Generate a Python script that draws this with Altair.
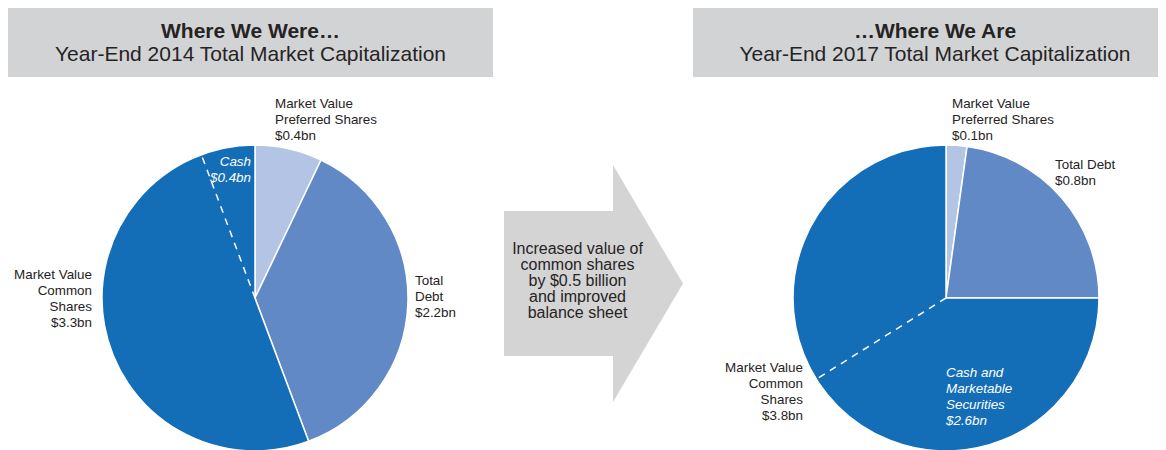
import math
import altair as alt
import pandas as pd

# ---------------- data ----------------
segments = ["Market Value Preferred Shares", "Total Debt", "Market Value Common Shares"]
seg_colors = ["#b3c4e5", "#6189c6", "#136db7"]

# slice sizes as drawn (% of the full circle), clockwise from 12 o'clock
left_share = [7.1, 37.2, 55.7]      # Year-End 2014
right_share = [2.2, 22.8, 75.0]     # Year-End 2017
# cash share inside the common-shares slice (% of circle)
left_cash_share = 5.7               # sits at the end of the common slice
right_cash_share = 41.1             # sits at the start of the common slice

left_labels = [["Market Value", "Preferred Shares", "$0.4bn"],
               ["Total", "Debt", "$2.2bn"],
               ["Market Value", "Common", "Shares", "$3.3bn"]]
left_cash_label = ["Cash", "$0.4bn"]
right_labels = [["Market Value", "Preferred Shares", "$0.1bn"],
                ["Total Debt", "$0.8bn"],
                ["Market Value", "Common", "Shares", "$3.8bn"]]
right_cash_label = ["Cash and", "Marketable", "Securities", "$2.6bn"]

left_title = "Where We Were\u2026"
left_subtitle = "Year-End 2014 Total Market Capitalization"
right_title = "\u2026Where We Are"
right_subtitle = "Year-End 2017 Total Market Capitalization"
arrow_text = ["Increased value of", "common shares", "by $0.5 billion",
              "and improved", "balance sheet"]

# ---------------- layout (page pixels) ----------------
W, H = 1150, 442
M = 8
R = 153
LC = (255, 298)
RC = (946, 298)
FONT = "Liberation Sans"
DARK = "#262324"
GRAY = "#d2d3d5"
ARROW_GRAY = "#d4d4d5"

SX = alt.Scale(domain=[M, M + W], range=[0, W], zero=False, nice=False)
SY = alt.Scale(domain=[M, M + H], range=[0, H], zero=False, nice=False)


def px(v):
    return v - M


def X(f="x"):
    return alt.X(f"{f}:Q", scale=SX, axis=None)


def Y(f="y"):
    return alt.Y(f"{f}:Q", scale=SY, axis=None)


color_scale = alt.Scale(domain=segments, range=seg_colors)
one = pd.DataFrame({"a": [0]})

# header boxes
headers = []
for x0, x1 in [(8, 493), (693, 1180)]:
    headers.append(
        alt.Chart(one).mark_rect(color=GRAY).encode(
            x=alt.value(px(x0)), x2=alt.value(px(x1)),
            y=alt.value(px(7)), y2=alt.value(px(77)))
    )

title_df = pd.DataFrame({"x": [250.5, 935], "y": [38, 38], "t": [left_title, right_title]})
sub_df = pd.DataFrame({"x": [250.5, 935], "y": [61, 61], "t": [left_subtitle, right_subtitle]})
titles = alt.Chart(title_df).mark_text(font=FONT, fontSize=21, fontWeight="bold",
                                       color=DARK, align="center", baseline="alphabetic").encode(
    x=X(), y=Y(), text="t:N")
subs = alt.Chart(sub_df).mark_text(font=FONT, fontSize=21, color=DARK,
                                   align="center", baseline="alphabetic").encode(
    x=X(), y=Y(), text="t:N")

# arrow: shaft rectangle + triangular head (custom symbol path)
SHAFT = (504, 613, 211, 356)
HEAD_X, HEAD_TOP, HEAD_BOT, TIP_X = 613, 165, 402, 683
half = (HEAD_BOT - HEAD_TOP) / 2
head_path = f"M0,-1L{(TIP_X - HEAD_X) / half:.4f},0L0,1Z"
shaft = alt.Chart(one).mark_rect(color=ARROW_GRAY).encode(
    x=alt.value(px(SHAFT[0])), x2=alt.value(px(SHAFT[1]) + 0.5),
    y=alt.value(px(SHAFT[2])), y2=alt.value(px(SHAFT[3])))
head = alt.Chart(pd.DataFrame({"x": [HEAD_X], "y": [(HEAD_TOP + HEAD_BOT) / 2]})).mark_point(
    shape=head_path, size=(2 * half) ** 2, filled=True, color=ARROW_GRAY, opacity=1,
    strokeWidth=0).encode(x=X(), y=Y())
arrow_txt = alt.Chart(pd.DataFrame({"x": [577.5], "y": [254], "t": [arrow_text]})).mark_text(
    font=FONT, fontSize=16, lineHeight=16, color=DARK, align="center", baseline="alphabetic"
).encode(x=X(), y=Y(), text="t:N")


def pie(shares, center):
    df = pd.DataFrame({"seg": segments, "share": shares, "k": [0, 1, 2]})
    return alt.Chart(df).mark_arc(radius=R, stroke="white", strokeWidth=1.5).encode(
        theta=alt.Theta("share:Q", stack=True, scale=alt.Scale(domain=[0, 100])),
        color=alt.Color("seg:N", scale=color_scale, legend=None),
        order=alt.Order("k:Q"),
        x=alt.value(px(center[0])), y=alt.value(px(center[1])),
    )


# dashed split lines inside the common slice
split_df = pd.DataFrame({
    "x": [LC[0], RC[0]],
    "y": [LC[1], RC[1]],
    "frac": [100 - left_cash_share, right_share[0] + right_share[1] + right_cash_share],
})
splits = alt.Chart(split_df).transform_calculate(
    x2=f"datum.x + {R} * sin(2 * PI * datum.frac / 100)",
    y2=f"datum.y - {R} * cos(2 * PI * datum.frac / 100)",
).mark_rule(color="white", strokeWidth=1.5, strokeDash=[7, 6]).encode(
    x=X(), y=Y(), x2="x2:Q", y2="y2:Q")


# labels
def labels(rows, align, color=DARK, style="normal"):
    df = pd.DataFrame(rows, columns=["x", "y", "t"])
    return alt.Chart(df).mark_text(font=FONT, fontSize=13.4, lineHeight=16, color=color,
                                   align=align, baseline="alphabetic", fontStyle=style).encode(
        x=X(), y=Y(), text="t:N")


lab_left_al = labels([
    (275, 108, left_labels[0]),
    (415, 285, left_labels[1]),
    (952, 108, right_labels[0]),
    (1055, 169, right_labels[1]),
], "left")
lab_right_al = labels([
    (92, 279, left_labels[2]),
    (803, 372, right_labels[2]),
], "right")
cash_l = labels([(251, 166, left_cash_label)], "right", color="white", style="italic")
cash_r = labels([(946, 377, right_cash_label)], "left", color="white", style="italic")

chart = alt.layer(
    *headers, titles, subs, shaft, head, arrow_txt,
    pie(left_share, LC), pie(right_share, RC), splits,
    lab_left_al, lab_right_al, cash_l, cash_r,
).properties(
    width=W, height=H, padding=0, autosize=alt.AutoSizeParams(type="none"),
    background="white",
).configure_view(stroke=None)

chart.save("out.html", embed_options={"renderer": "svg", "actions": False})
